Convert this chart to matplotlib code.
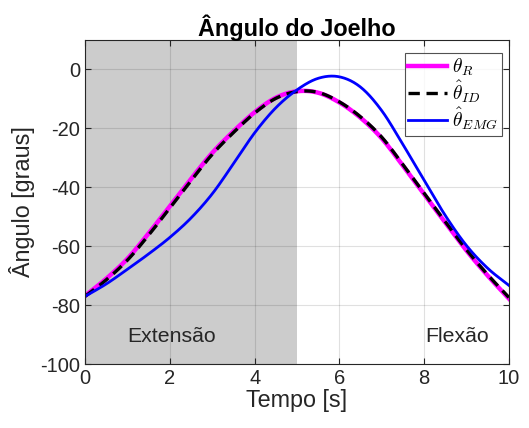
import matplotlib
matplotlib.use("Agg")
import matplotlib.pyplot as plt
import numpy as np

plt.rcParams['font.family'] = ['Liberation Sans', 'DejaVu Sans']
plt.rcParams['mathtext.fontset'] = 'cm'
plt.rcParams['axes.unicode_minus'] = False

# values, every 0.5 s
t = [0.0, 0.5, 1.0, 1.5, 2.0, 2.5, 3.0, 3.5, 4.0, 4.5, 5.0,
     5.5, 6.0, 6.5, 7.0, 7.5, 8.0, 8.5, 9.0, 9.5, 10.0]
theta_r = [-76.8, -71.0, -64.2, -55.6, -46.4, -37.1, -28.3, -21.0, -14.5, -9.6, -7.4,
           -7.9, -11.2, -16.4, -23.4, -32.7, -42.4, -52.0, -61.5, -70.0, -77.8]
theta_id = [-77.0, -71.4, -64.7, -56.2, -47.0, -37.7, -28.8, -21.4, -14.8, -9.8, -7.5,
            -7.8, -11.0, -16.1, -23.0, -32.3, -42.0, -51.7, -61.2, -69.7, -77.4]
theta_emg = [-77.0, -72.8, -67.8, -62.6, -57.0, -50.4, -42.2, -32.0, -21.5, -13.0, -6.9,
             -3.0, -2.5, -6.0, -14.0, -25.5, -37.6, -49.6, -59.8, -67.5, -73.3]


def smooth(x, y, n=400):
    # cubic Hermite curve through the read points
    x = np.asarray(x); y = np.asarray(y)
    m = np.gradient(y, x)
    xs = np.linspace(x[0], x[-1], n)
    idx = np.clip(np.searchsorted(x, xs) - 1, 0, len(x) - 2)
    h = x[idx + 1] - x[idx]
    s = (xs - x[idx]) / h
    h00 = 2*s**3 - 3*s**2 + 1
    h10 = s**3 - 2*s**2 + s
    h01 = -2*s**3 + 3*s**2
    h11 = s**3 - s**2
    ys = h00*y[idx] + h10*h*m[idx] + h01*y[idx+1] + h11*h*m[idx+1]
    return xs, ys


fig = plt.figure(figsize=(5.29, 4.28), dpi=100)
ax = fig.add_axes([0.161, 0.1495, 0.801, 0.757])

ax.axvspan(0, 5, color='#cccccc', zorder=0, lw=0)

x, y = smooth(t, theta_r)
ax.plot(x, y, color='#ff00ff', lw=3.2, label=r'$\theta_R$')
x, y = smooth(t, theta_id)
ax.plot(x, y, color='black', lw=2.4, ls=(0, (3.4, 2.0)), label=r'$\hat{\theta}_{ID}$')
x, y = smooth(t, theta_emg)
ax.plot(x, y, color='#0000ff', lw=2.0, label=r'$\hat{\theta}_{EMG}$')

ax.text(2.03, -90.8, 'Extensão', fontsize=15.3, ha='center', va='center', color='#262626')
ax.text(8.77, -90.8, 'Flexão', fontsize=15.3, ha='center', va='center', color='#262626')

ax.set_xlim(0, 10)
ax.set_ylim(-100, 10)
ax.set_xticks([0, 2, 4, 6, 8, 10])
ax.set_yticks([-100, -80, -60, -40, -20, 0])
ax.grid(True, color='#000000', alpha=0.12, lw=0.8)
ax.set_axisbelow(True)
ax.tick_params(direction='in', top=True, right=True, labelsize=14.5, colors='#262626',
               length=4, width=0.8)
for sp in ax.spines.values():
    sp.set_color('#262626')
    sp.set_linewidth(0.8)

ax.set_xlabel('Tempo [s]', fontsize=16.8, color='#262626', labelpad=1)
ax.set_ylabel('Ângulo [graus]', fontsize=16.8, color='#262626', labelpad=4)
ax.set_title('Ângulo do Joelho', fontsize=16.8, fontweight='bold', pad=3)

leg = ax.legend(loc='upper right', fontsize=14, frameon=True, fancybox=False,
                edgecolor='#262626', handlelength=2.0, handletextpad=0.25,
                labelspacing=0.0, borderpad=0.2, borderaxespad=0.0,
                bbox_to_anchor=(0.983, 0.96))
leg.get_frame().set_linewidth(0.8)

fig.savefig('out.png', dpi=100)
